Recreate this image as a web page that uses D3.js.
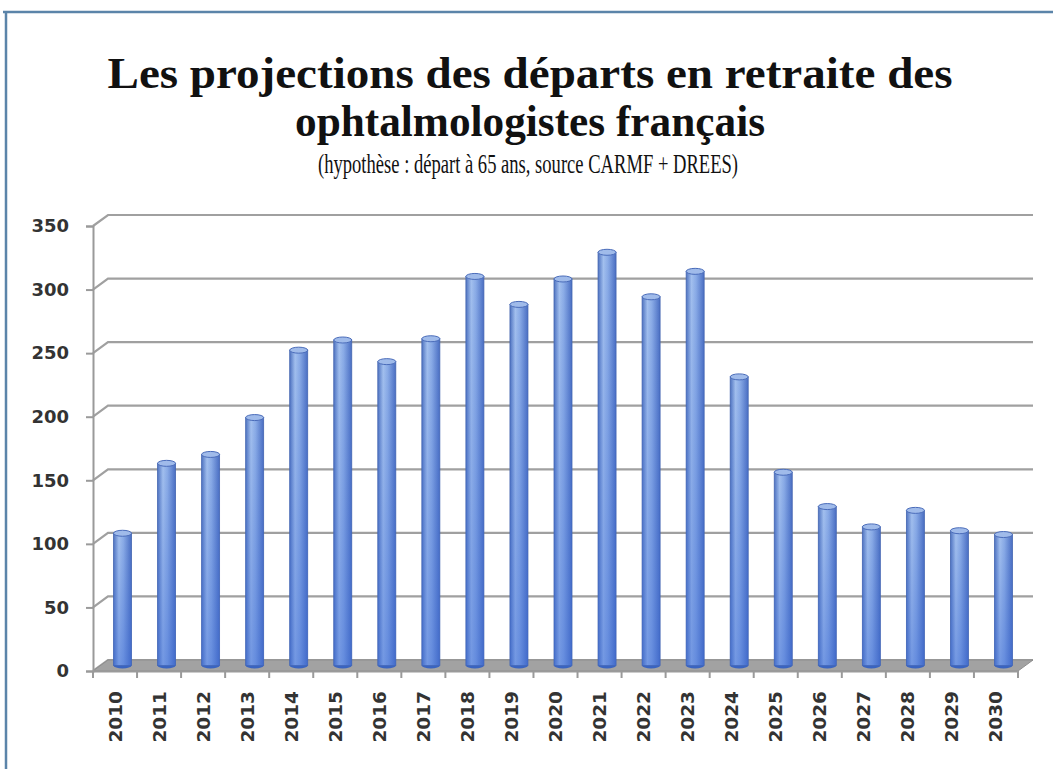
<!DOCTYPE html>
<html>
<head>
<meta charset="utf-8">
<script src="https://cdn.jsdelivr.net/npm/d3@7"></script>
<style>
  body { margin:0; background:#fff; }
  svg { display:block; }
</style>
</head>
<body>
<div id="chart"></div>
<script>
// data
var years = ["2010","2011","2012","2013","2014","2015","2016","2017","2018","2019","2020",
             "2021","2022","2023","2024","2025","2026","2027","2028","2029","2030"];
var departs = [104,159,166,195,248,256,239,257,306,284,304,
               325,290,310,227,152,125,109,122,106,103];
var yTicks = [0,50,100,150,200,250,300,350];

var titleLines = ["Les projections des départs en retraite des", "ophtalmologistes français"];
var subtitle = "(hypothèse : départ à 65 ans, source CARMF + DREES)";

var width = 1053,
    height = 769,
    depthX = 15, // 3d depth offset
    depthY = 11;

var svg = d3.select("#chart").append("svg")
    .attr("width", width)
    .attr("height", height);

var x = d3.scaleBand().domain(years).range([93, 1018]);
var y = d3.scaleLinear().domain([0, 350]).range([671, 226]);

// gradients for cylinders
var defs = svg.append("defs");
var g1 = defs.append("linearGradient").attr("id","cyl").attr("x1","0").attr("x2","1").attr("y1","0").attr("y2","0");
[["0%","#4f73c0"],["30%","#a3c0ee"],["55%","#8aabe6"],["100%","#4a6ec2"]].forEach(function(s){
    g1.append("stop").attr("offset",s[0]).attr("stop-color",s[1]);
});
var g2 = defs.append("linearGradient").attr("id","shade").attr("x1","0").attr("x2","0").attr("y1","0").attr("y2","1");
g2.append("stop").attr("offset","0%").attr("stop-color","#3a68d2").attr("stop-opacity",0);
g2.append("stop").attr("offset","100%").attr("stop-color","#3766d4").attr("stop-opacity",0.45);

// frame border (top + left)
svg.append("path")
    .attr("d","M3,12 L1053,12 M6,12 L6,769")
    .attr("stroke","#5b84a9")
    .attr("stroke-width",2.5)
    .attr("fill","none");

// title
var title = svg.append("g")
    .attr("font-family","'Liberation Serif', 'DejaVu Serif', serif")
    .attr("fill","#111")
    .attr("text-anchor","middle");

title.selectAll(".t")
  .data(titleLines)
  .enter().append("text")
    .attr("class","t")
    .attr("x", 530)
    .attr("y", function(d,i){ return 88 + i*48; })
    .attr("font-size","45px")
    .attr("font-weight","bold")
    .attr("textLength", function(d,i){ return i==0 ? 845 : 470; })
    .attr("lengthAdjust","spacingAndGlyphs")
    .text(function(d){ return d; });

title.append("text")
    .attr("x", 528)
    .attr("y", 173)
    .attr("font-size","27px")
    .attr("textLength", 420)
    .attr("lengthAdjust","spacingAndGlyphs")
    .text(subtitle);

var layer1 = svg.append("g"); // walls + grid
var layer2 = svg.append("g"); // bars
var layer3 = svg.append("g"); // axes

// back wall gridlines with diagonal to axis
layer1.selectAll(".grid")
  .data(yTicks)
  .enter().append("path")
    .attr("class","grid")
    .attr("d", function(d){
        var yy = y(d);
        return "M" + x.range()[0] + "," + yy + " L" + (x.range()[0]+depthX) + "," + (yy-depthY) +
               " L" + (x.range()[1]+depthX) + "," + (yy-depthY);
    })
    .attr("stroke","#a0a0a0")
    .attr("stroke-width",2.2)
    .attr("fill","none");

// floor
var x0 = x.range()[0], x1 = x.range()[1], y0 = y(0);
layer1.append("path")
    .attr("d","M"+x0+","+y0+" L"+(x0+depthX)+","+(y0-depthY)+" L"+(x1+depthX)+","+(y0-depthY)+" L"+x1+","+y0+" Z")
    .attr("fill","#a2a2a2")
    .attr("stroke","#8e8e8e")
    .attr("stroke-width",1);

// bars (cylinders)
var bw = 18, ry = 3;
var bars = layer2.selectAll(".bar")
  .data(years)
  .enter().append("g")
    .attr("class","bar")
    .attr("transform", function(d){
        return "translate(" + (x(d) + x.bandwidth()/2 + depthX/2) + "," + (-depthY/2) + ")";
    });

bars.append("ellipse")
    .attr("cx",0).attr("cy", y(0))
    .attr("rx", bw/2).attr("ry", ry)
    .attr("fill","#3a64c0");

bars.append("rect")
    .attr("x",-bw/2)
    .attr("y", function(d,i){ return y(departs[i]); })
    .attr("width",bw)
    .attr("height", function(d,i){ return y(0) - y(departs[i]); })
    .attr("fill","url(#cyl)")
    .attr("stroke","#4566b0")
    .attr("stroke-width",0.8);

bars.append("rect")
    .attr("x",-bw/2)
    .attr("y", function(d,i){ return y(departs[i]); })
    .attr("width",bw)
    .attr("height", function(d,i){ return y(0) - y(departs[i]); })
    .attr("fill","url(#shade)");

bars.append("ellipse")
    .attr("cx",0)
    .attr("cy", function(d,i){ return y(departs[i]); })
    .attr("rx", bw/2).attr("ry", ry)
    .attr("fill","#a0bbea")
    .attr("stroke","#4a6cba")
    .attr("stroke-width",1);

// y axis
var yAxis = layer3.append("g")
    .attr("transform","translate(" + x0 + ",0)")
    .call(d3.axisLeft(y).tickValues(yTicks).tickSize(7).tickPadding(17));
yAxis.select(".domain").attr("stroke","#9a9a9a").attr("stroke-width",2);
yAxis.selectAll(".tick line").attr("stroke","#9a9a9a").attr("stroke-width",2);
yAxis.selectAll("text")
    .attr("font-family","'DejaVu Sans', sans-serif")
    .attr("font-size","18px")
    .attr("font-weight","bold")
    .attr("fill","#333");

// x axis
var xAxis = layer3.append("g")
    .attr("transform","translate(0," + y0 + ")")
    .call(d3.axisBottom(x).tickSize(0));
xAxis.select(".domain").attr("stroke","#9a9a9a").attr("stroke-width",2);
xAxis.selectAll("text")
    .attr("transform","rotate(-90)")
    .attr("x",-20)
    .attr("y",0)
    .attr("dy","0.35em")
    .style("text-anchor","end")
    .attr("font-family","'DejaVu Sans', sans-serif")
    .attr("font-size","18.5px")
    .attr("font-weight","bold")
    .attr("fill","#333");

// ticks between categories
xAxis.selectAll(".sep")
  .data([years[0]].concat(years))
  .enter().append("line")
    .attr("class","sep")
    .attr("x1", function(d,i){ return i==0 ? x0 : x(d) + x.bandwidth(); })
    .attr("x2", function(d,i){ return i==0 ? x0 : x(d) + x.bandwidth(); })
    .attr("y1",0)
    .attr("y2",7)
    .attr("stroke","#9a9a9a")
    .attr("stroke-width",2);
</script>
</body>
</html>
